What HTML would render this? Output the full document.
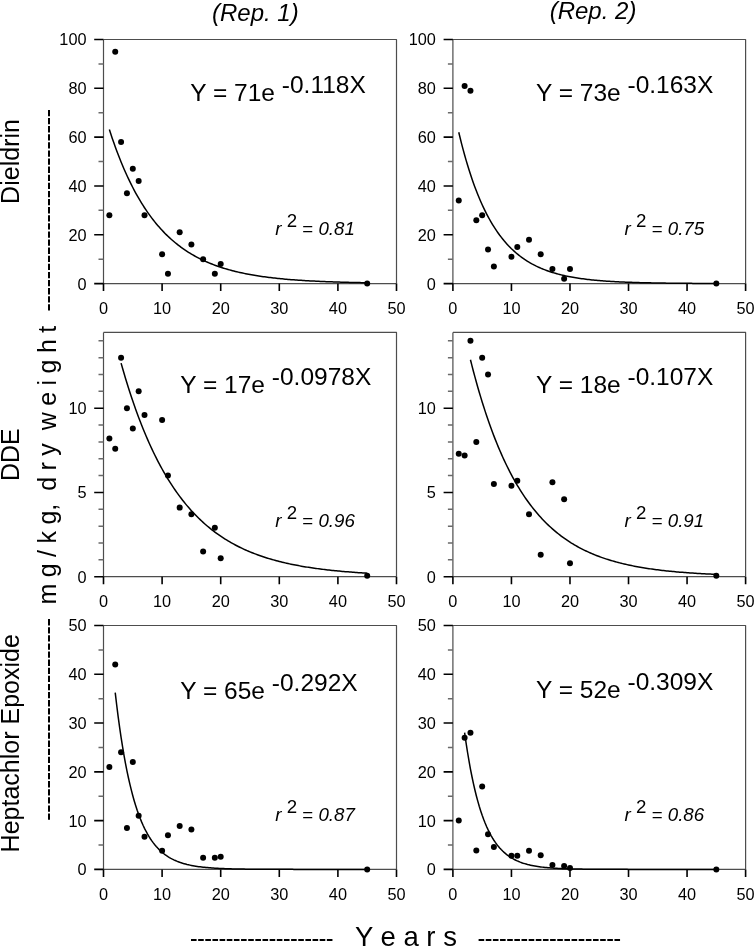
<!DOCTYPE html>
<html><head><meta charset="utf-8"><style>
html,body{margin:0;padding:0;background:#fff;}
svg{display:block;will-change:transform;}
text{font-family:"Liberation Sans", sans-serif;fill:#000;white-space:pre;}
.tl{font-size:16.3px;}
.eq{font-size:24.5px;}
.r2{font-size:18.7px;}
.sup{font-style:normal;}
.rep{font-size:24px;font-style:italic;}
.sl{font-size:25px;}
.yr{font-size:27.5px;}
</style></head><body>
<svg width="755" height="947" viewBox="0 0 755 947">
<rect width="755" height="947" fill="#fff"/>
<path d="M103.5,39.5H396.5V283.6" fill="none" stroke="#4d4d4d" stroke-width="1.2" stroke-linejoin="round"/>
<path d="M103.5,39.5V283.6H396.5" fill="none" stroke="#4d4d4d" stroke-width="1.2" stroke-linejoin="round"/>
<path d="M94.2,283.6H103.5M94.2,234.78H103.5M94.2,185.96H103.5M94.2,137.14H103.5M94.2,88.32H103.5M94.2,39.5H103.5M103.5,283.6V291.1M162.1,283.6V291.1M220.7,283.6V291.1M279.3,283.6V291.1M337.9,283.6V291.1M396.5,283.6V291.1" stroke="#000" stroke-width="1.6"/>
<path d="M98.5,259.19H103.5M98.5,210.37H103.5M98.5,161.55H103.5M98.5,112.73H103.5M98.5,63.91H103.5" stroke="#6a6a6a" stroke-width="1.5"/>
<text x="86.5" y="289.5" text-anchor="end" class="tl">0</text>
<text x="86.5" y="240.68" text-anchor="end" class="tl">20</text>
<text x="86.5" y="191.86" text-anchor="end" class="tl">40</text>
<text x="86.5" y="143.04" text-anchor="end" class="tl">60</text>
<text x="86.5" y="94.22" text-anchor="end" class="tl">80</text>
<text x="86.5" y="45.4" text-anchor="end" class="tl">100</text>
<text x="103.5" y="313.7" text-anchor="middle" class="tl">0</text>
<text x="162.1" y="313.7" text-anchor="middle" class="tl">10</text>
<text x="220.7" y="313.7" text-anchor="middle" class="tl">20</text>
<text x="279.3" y="313.7" text-anchor="middle" class="tl">30</text>
<text x="337.9" y="313.7" text-anchor="middle" class="tl">40</text>
<text x="396.5" y="313.7" text-anchor="middle" class="tl">50</text>
<polyline points="109.36,129.58 110.83,134.06 112.29,138.4 113.75,142.62 115.22,146.72 116.69,150.7 118.15,154.56 119.62,158.32 121.08,161.96 122.55,165.49 124.01,168.93 125.47,172.26 126.94,175.5 128.41,178.64 129.87,181.69 131.34,184.65 132.8,187.53 134.26,190.32 135.73,193.03 137.19,195.67 138.66,198.22 140.12,200.7 141.59,203.11 143.06,205.45 144.52,207.72 145.99,209.93 147.45,212.07 148.91,214.15 150.38,216.17 151.84,218.13 153.31,220.03 154.78,221.88 156.24,223.68 157.71,225.42 159.17,227.11 160.63,228.75 162.1,230.35 163.56,231.89 165.03,233.4 166.5,234.86 167.96,236.27 169.43,237.65 170.89,238.98 172.36,240.28 173.82,241.54 175.29,242.76 176.75,243.95 178.22,245.1 179.68,246.22 181.15,247.31 182.61,248.36 184.07,249.39 185.54,250.38 187,251.35 188.47,252.29 189.94,253.2 191.4,254.08 192.87,254.94 194.33,255.77 195.8,256.58 197.26,257.37 198.73,258.13 200.19,258.87 201.66,259.59 203.12,260.29 204.59,260.96 206.05,261.62 207.51,262.26 208.98,262.88 210.44,263.48 211.91,264.07 213.38,264.64 214.84,265.19 216.31,265.72 217.77,266.24 219.24,266.75 220.7,267.24 222.17,267.71 223.63,268.17 225.1,268.62 226.56,269.06 228.03,269.48 229.49,269.89 230.96,270.29 232.42,270.68 233.89,271.05 235.35,271.42 236.81,271.77 238.28,272.11 239.75,272.45 241.21,272.77 242.68,273.09 244.14,273.39 245.61,273.69 247.07,273.98 248.53,274.26 250,274.53 251.47,274.79 252.93,275.05 254.4,275.3 255.86,275.54 257.33,275.77 258.79,276 260.25,276.22 261.72,276.44 263.19,276.64 264.65,276.85 266.12,277.04 267.58,277.23 269.05,277.42 270.51,277.6 271.98,277.77 273.44,277.94 274.9,278.11 276.37,278.27 277.84,278.42 279.3,278.57 280.76,278.72 282.23,278.86 283.7,279 285.16,279.13 286.62,279.26 288.09,279.39 289.56,279.51 291.02,279.63 292.49,279.74 293.95,279.86 295.42,279.97 296.88,280.07 298.35,280.17 299.81,280.27 301.27,280.37 302.74,280.46 304.21,280.55 305.67,280.64 307.13,280.73 308.6,280.81 310.06,280.89 311.53,280.97 313,281.05 314.46,281.12 315.93,281.19 317.39,281.26 318.86,281.33 320.32,281.4 321.79,281.46 323.25,281.52 324.72,281.59 326.18,281.64 327.64,281.7 329.11,281.76 330.58,281.81 332.04,281.86 333.5,281.91 334.97,281.96 336.44,282.01 337.9,282.05 339.37,282.1 340.83,282.14 342.3,282.19 343.76,282.23 345.23,282.27 346.69,282.31 348.15,282.34 349.62,282.38 351.09,282.42 352.55,282.45 354.01,282.48 355.48,282.52 356.95,282.55 358.41,282.58 359.88,282.61 361.34,282.64 362.81,282.66 364.27,282.69 365.74,282.72 367.2,282.74" fill="none" stroke="#000" stroke-width="1.5"/>
<circle cx="109.36" cy="215.25" r="3"/>
<circle cx="115.22" cy="51.7" r="3"/>
<circle cx="121.08" cy="142.02" r="3"/>
<circle cx="126.94" cy="193.28" r="3"/>
<circle cx="132.8" cy="168.87" r="3"/>
<circle cx="138.66" cy="181.08" r="3"/>
<circle cx="144.52" cy="215.25" r="3"/>
<circle cx="162.1" cy="254.31" r="3"/>
<circle cx="167.96" cy="273.84" r="3"/>
<circle cx="179.68" cy="232.34" r="3"/>
<circle cx="191.4" cy="244.54" r="3"/>
<circle cx="203.12" cy="259.19" r="3"/>
<circle cx="214.84" cy="273.84" r="3"/>
<circle cx="220.7" cy="264.07" r="3"/>
<circle cx="367.2" cy="283.6" r="3"/>
<text x="190.3" y="100.8" class="eq">Y = 71e <tspan dy="-8">-0.118X</tspan></text>
<text x="275.3" y="234.8" class="r2"><tspan font-style="italic">r</tspan> <tspan dy="-8" class="sup">2</tspan><tspan dy="8"> = </tspan><tspan font-style="italic">0.81</tspan></text>
<path d="M452.9,39.5H745.6V283.6" fill="none" stroke="#4d4d4d" stroke-width="1.2" stroke-linejoin="round"/>
<path d="M452.9,39.5V283.6H745.6" fill="none" stroke="#4d4d4d" stroke-width="1.2" stroke-linejoin="round"/>
<path d="M443.6,283.6H452.9M443.6,234.78H452.9M443.6,185.96H452.9M443.6,137.14H452.9M443.6,88.32H452.9M443.6,39.5H452.9M452.9,283.6V291.1M511.44,283.6V291.1M569.98,283.6V291.1M628.52,283.6V291.1M687.06,283.6V291.1M745.6,283.6V291.1" stroke="#000" stroke-width="1.6"/>
<path d="M447.9,259.19H452.9M447.9,210.37H452.9M447.9,161.55H452.9M447.9,112.73H452.9M447.9,63.91H452.9" stroke="#6a6a6a" stroke-width="1.5"/>
<text x="435.9" y="289.5" text-anchor="end" class="tl">0</text>
<text x="435.9" y="240.68" text-anchor="end" class="tl">20</text>
<text x="435.9" y="191.86" text-anchor="end" class="tl">40</text>
<text x="435.9" y="143.04" text-anchor="end" class="tl">60</text>
<text x="435.9" y="94.22" text-anchor="end" class="tl">80</text>
<text x="435.9" y="45.4" text-anchor="end" class="tl">100</text>
<text x="452.9" y="313.7" text-anchor="middle" class="tl">0</text>
<text x="511.44" y="313.7" text-anchor="middle" class="tl">10</text>
<text x="569.98" y="313.7" text-anchor="middle" class="tl">20</text>
<text x="628.52" y="313.7" text-anchor="middle" class="tl">30</text>
<text x="687.06" y="313.7" text-anchor="middle" class="tl">40</text>
<text x="745.6" y="313.7" text-anchor="middle" class="tl">50</text>
<polyline points="458.75,132.21 460.22,138.25 461.68,144.06 463.14,149.63 464.61,154.98 466.07,160.12 467.53,165.05 469,169.78 470.46,174.33 471.93,178.69 473.39,182.88 474.85,186.9 476.32,190.76 477.78,194.47 479.24,198.03 480.71,201.44 482.17,204.72 483.63,207.87 485.1,210.9 486.56,213.8 488.02,216.59 489.49,219.26 490.95,221.83 492.41,224.3 493.88,226.67 495.34,228.94 496.81,231.12 498.27,233.22 499.73,235.23 501.2,237.16 502.66,239.02 504.12,240.8 505.59,242.51 507.05,244.15 508.51,245.72 509.98,247.23 511.44,248.69 512.9,250.08 514.37,251.42 515.83,252.7 517.29,253.94 518.76,255.12 520.22,256.26 521.68,257.35 523.15,258.4 524.61,259.41 526.08,260.37 527.54,261.3 529,262.19 530.47,263.04 531.93,263.87 533.39,264.65 534.86,265.41 536.32,266.14 537.78,266.83 539.25,267.5 540.71,268.15 542.17,268.76 543.64,269.36 545.1,269.92 546.56,270.47 548.03,270.99 549.49,271.5 550.95,271.98 552.42,272.45 553.88,272.89 555.35,273.32 556.81,273.73 558.27,274.12 559.74,274.5 561.2,274.86 562.66,275.21 564.13,275.55 565.59,275.87 567.05,276.18 568.52,276.47 569.98,276.76 571.44,277.03 572.91,277.29 574.37,277.55 575.83,277.79 577.3,278.02 578.76,278.24 580.22,278.46 581.69,278.66 583.15,278.86 584.62,279.05 586.08,279.23 587.54,279.41 589.01,279.57 590.47,279.73 591.93,279.89 593.4,280.04 594.86,280.18 596.32,280.31 597.79,280.45 599.25,280.57 600.71,280.69 602.18,280.81 603.64,280.92 605.1,281.03 606.57,281.13 608.03,281.23 609.49,281.32 610.96,281.41 612.42,281.5 613.88,281.59 615.35,281.67 616.81,281.74 618.28,281.82 619.74,281.89 621.2,281.96 622.67,282.02 624.13,282.09 625.59,282.15 627.06,282.2 628.52,282.26 629.98,282.31 631.45,282.36 632.91,282.41 634.37,282.46 635.84,282.51 637.3,282.55 638.76,282.59 640.23,282.63 641.69,282.67 643.15,282.71 644.62,282.74 646.08,282.78 647.55,282.81 649.01,282.84 650.47,282.87 651.94,282.9 653.4,282.93 654.86,282.96 656.33,282.98 657.79,283.01 659.25,283.03 660.72,283.05 662.18,283.08 663.64,283.1 665.11,283.12 666.57,283.14 668.03,283.15 669.5,283.17 670.96,283.19 672.42,283.21 673.89,283.22 675.35,283.24 676.82,283.25 678.28,283.26 679.74,283.28 681.21,283.29 682.67,283.3 684.13,283.32 685.6,283.33 687.06,283.34 688.52,283.35 689.99,283.36 691.45,283.37 692.91,283.38 694.38,283.39 695.84,283.39 697.3,283.4 698.77,283.41 700.23,283.42 701.7,283.43 703.16,283.43 704.62,283.44 706.09,283.45 707.55,283.45 709.01,283.46 710.48,283.46 711.94,283.47 713.4,283.47 714.87,283.48 716.33,283.48" fill="none" stroke="#000" stroke-width="1.5"/>
<circle cx="458.75" cy="200.61" r="3"/>
<circle cx="464.61" cy="85.88" r="3"/>
<circle cx="470.46" cy="90.76" r="3"/>
<circle cx="476.32" cy="220.13" r="3"/>
<circle cx="482.17" cy="215.25" r="3"/>
<circle cx="488.02" cy="249.43" r="3"/>
<circle cx="493.88" cy="266.51" r="3"/>
<circle cx="511.44" cy="256.75" r="3"/>
<circle cx="517.29" cy="246.99" r="3"/>
<circle cx="529" cy="239.66" r="3"/>
<circle cx="540.71" cy="254.31" r="3"/>
<circle cx="552.42" cy="268.95" r="3"/>
<circle cx="564.13" cy="278.72" r="3"/>
<circle cx="569.98" cy="268.95" r="3"/>
<circle cx="716.33" cy="283.6" r="3"/>
<text x="536" y="101" class="eq">Y = 73e <tspan dy="-8">-0.163X</tspan></text>
<text x="624.6" y="234.9" class="r2"><tspan font-style="italic">r</tspan> <tspan dy="-8" class="sup">2</tspan><tspan dy="8"> = </tspan><tspan font-style="italic">0.75</tspan></text>
<path d="M103.5,332.4H396.5V576.7" fill="none" stroke="#4d4d4d" stroke-width="1.2" stroke-linejoin="round"/>
<path d="M103.5,332.4V576.7H396.5" fill="none" stroke="#4d4d4d" stroke-width="1.2" stroke-linejoin="round"/>
<path d="M94.2,576.7H103.5M94.2,492.46H103.5M94.2,408.22H103.5M103.5,576.7V584.2M162.1,576.7V584.2M220.7,576.7V584.2M279.3,576.7V584.2M337.9,576.7V584.2M396.5,576.7V584.2" stroke="#000" stroke-width="1.6"/>
<path d="M98.5,559.85H103.5M98.5,543H103.5M98.5,526.16H103.5M98.5,509.31H103.5M98.5,475.61H103.5M98.5,458.76H103.5M98.5,441.91H103.5M98.5,425.07H103.5M98.5,391.37H103.5M98.5,374.52H103.5M98.5,357.67H103.5M98.5,340.82H103.5" stroke="#6a6a6a" stroke-width="1.5"/>
<text x="86.5" y="582.6" text-anchor="end" class="tl">0</text>
<text x="86.5" y="498.36" text-anchor="end" class="tl">5</text>
<text x="86.5" y="414.12" text-anchor="end" class="tl">10</text>
<text x="103.5" y="606.8" text-anchor="middle" class="tl">0</text>
<text x="162.1" y="606.8" text-anchor="middle" class="tl">10</text>
<text x="220.7" y="606.8" text-anchor="middle" class="tl">20</text>
<text x="279.3" y="606.8" text-anchor="middle" class="tl">30</text>
<text x="337.9" y="606.8" text-anchor="middle" class="tl">40</text>
<text x="396.5" y="606.8" text-anchor="middle" class="tl">50</text>
<polyline points="121.08,363.11 122.55,368.27 124.01,373.3 125.47,378.22 126.94,383.01 128.41,387.69 129.87,392.25 131.34,396.71 132.8,401.06 134.26,405.3 135.73,409.44 137.19,413.48 138.66,417.42 140.12,421.27 141.59,425.02 143.06,428.69 144.52,432.26 145.99,435.75 147.45,439.15 148.91,442.48 150.38,445.72 151.84,448.88 153.31,451.97 154.78,454.98 156.24,457.92 157.71,460.79 159.17,463.59 160.63,466.32 162.1,468.99 163.56,471.59 165.03,474.13 166.5,476.61 167.96,479.02 169.43,481.38 170.89,483.68 172.36,485.93 173.82,488.12 175.29,490.26 176.75,492.35 178.22,494.39 179.68,496.38 181.15,498.32 182.61,500.21 184.07,502.06 185.54,503.86 187,505.62 188.47,507.34 189.94,509.01 191.4,510.65 192.87,512.24 194.33,513.8 195.8,515.32 197.26,516.8 198.73,518.25 200.19,519.66 201.66,521.04 203.12,522.38 204.59,523.69 206.05,524.97 207.51,526.22 208.98,527.44 210.44,528.63 211.91,529.79 213.38,530.93 214.84,532.03 216.31,533.11 217.77,534.16 219.24,535.19 220.7,536.19 222.17,537.17 223.63,538.13 225.1,539.06 226.56,539.97 228.03,540.85 229.49,541.72 230.96,542.57 232.42,543.39 233.89,544.19 235.35,544.98 236.81,545.75 238.28,546.49 239.75,547.22 241.21,547.93 242.68,548.63 244.14,549.31 245.61,549.97 247.07,550.61 248.53,551.25 250,551.86 251.47,552.46 252.93,553.05 254.4,553.62 255.86,554.17 257.33,554.72 258.79,555.25 260.25,555.77 261.72,556.27 263.19,556.77 264.65,557.25 266.12,557.72 267.58,558.18 269.05,558.62 270.51,559.06 271.98,559.49 273.44,559.9 274.9,560.31 276.37,560.7 277.84,561.09 279.3,561.47 280.76,561.83 282.23,562.19 283.7,562.54 285.16,562.89 286.62,563.22 288.09,563.55 289.56,563.86 291.02,564.17 292.49,564.48 293.95,564.77 295.42,565.06 296.88,565.34 298.35,565.61 299.81,565.88 301.27,566.14 302.74,566.4 304.21,566.65 305.67,566.89 307.13,567.13 308.6,567.36 310.06,567.58 311.53,567.8 313,568.02 314.46,568.23 315.93,568.43 317.39,568.63 318.86,568.83 320.32,569.02 321.79,569.2 323.25,569.38 324.72,569.56 326.18,569.73 327.64,569.9 329.11,570.07 330.58,570.23 332.04,570.38 333.5,570.54 334.97,570.68 336.44,570.83 337.9,570.97 339.37,571.11 340.83,571.24 342.3,571.38 343.76,571.51 345.23,571.63 346.69,571.75 348.15,571.87 349.62,571.99 351.09,572.1 352.55,572.21 354.01,572.32 355.48,572.43 356.95,572.53 358.41,572.63 359.88,572.73 361.34,572.83 362.81,572.92 364.27,573.01 365.74,573.1 367.2,573.19" fill="none" stroke="#000" stroke-width="1.5"/>
<circle cx="109.36" cy="438.54" r="3"/>
<circle cx="115.22" cy="448.65" r="3"/>
<circle cx="121.08" cy="357.67" r="3"/>
<circle cx="126.94" cy="408.22" r="3"/>
<circle cx="132.8" cy="428.44" r="3"/>
<circle cx="138.66" cy="391.37" r="3"/>
<circle cx="144.52" cy="414.96" r="3"/>
<circle cx="162.1" cy="420.01" r="3"/>
<circle cx="167.96" cy="475.61" r="3"/>
<circle cx="179.68" cy="507.62" r="3"/>
<circle cx="191.4" cy="514.36" r="3"/>
<circle cx="203.12" cy="551.43" r="3"/>
<circle cx="214.84" cy="527.84" r="3"/>
<circle cx="220.7" cy="558.17" r="3"/>
<circle cx="367.2" cy="575.86" r="3"/>
<text x="180.3" y="393.4" class="eq">Y = 17e <tspan dy="-8">-0.0978X</tspan></text>
<text x="275.3" y="527.4" class="r2"><tspan font-style="italic">r</tspan> <tspan dy="-8" class="sup">2</tspan><tspan dy="8"> = </tspan><tspan font-style="italic">0.96</tspan></text>
<path d="M452.9,332.4H745.6V576.7" fill="none" stroke="#4d4d4d" stroke-width="1.2" stroke-linejoin="round"/>
<path d="M452.9,332.4V576.7H745.6" fill="none" stroke="#4d4d4d" stroke-width="1.2" stroke-linejoin="round"/>
<path d="M443.6,576.7H452.9M443.6,492.46H452.9M443.6,408.22H452.9M452.9,576.7V584.2M511.44,576.7V584.2M569.98,576.7V584.2M628.52,576.7V584.2M687.06,576.7V584.2M745.6,576.7V584.2" stroke="#000" stroke-width="1.6"/>
<path d="M447.9,559.85H452.9M447.9,543H452.9M447.9,526.16H452.9M447.9,509.31H452.9M447.9,475.61H452.9M447.9,458.76H452.9M447.9,441.91H452.9M447.9,425.07H452.9M447.9,391.37H452.9M447.9,374.52H452.9M447.9,357.67H452.9M447.9,340.82H452.9" stroke="#6a6a6a" stroke-width="1.5"/>
<text x="435.9" y="582.6" text-anchor="end" class="tl">0</text>
<text x="435.9" y="498.36" text-anchor="end" class="tl">5</text>
<text x="435.9" y="414.12" text-anchor="end" class="tl">10</text>
<text x="452.9" y="606.8" text-anchor="middle" class="tl">0</text>
<text x="511.44" y="606.8" text-anchor="middle" class="tl">10</text>
<text x="569.98" y="606.8" text-anchor="middle" class="tl">20</text>
<text x="628.52" y="606.8" text-anchor="middle" class="tl">30</text>
<text x="687.06" y="606.8" text-anchor="middle" class="tl">40</text>
<text x="745.6" y="606.8" text-anchor="middle" class="tl">50</text>
<polyline points="470.46,359.8 471.93,365.58 473.39,371.2 474.85,376.67 476.32,382 477.78,387.19 479.24,392.24 480.71,397.15 482.17,401.93 483.63,406.59 485.1,411.12 486.56,415.53 488.02,419.83 489.49,424 490.95,428.07 492.41,432.03 493.88,435.89 495.34,439.64 496.81,443.29 498.27,446.84 499.73,450.3 501.2,453.67 502.66,456.95 504.12,460.14 505.59,463.24 507.05,466.26 508.51,469.2 509.98,472.07 511.44,474.86 512.9,477.57 514.37,480.21 515.83,482.78 517.29,485.28 518.76,487.72 520.22,490.09 521.68,492.39 523.15,494.64 524.61,496.83 526.08,498.95 527.54,501.03 529,503.04 530.47,505 531.93,506.91 533.39,508.77 534.86,510.58 536.32,512.34 537.78,514.06 539.25,515.73 540.71,517.35 542.17,518.93 543.64,520.47 545.1,521.97 546.56,523.43 548.03,524.85 549.49,526.23 550.95,527.57 552.42,528.88 553.88,530.15 555.35,531.39 556.81,532.6 558.27,533.78 559.74,534.92 561.2,536.03 562.66,537.12 564.13,538.17 565.59,539.2 567.05,540.2 568.52,541.17 569.98,542.11 571.44,543.04 572.91,543.93 574.37,544.81 575.83,545.65 577.3,546.48 578.76,547.29 580.22,548.07 581.69,548.83 583.15,549.58 584.62,550.3 586.08,551 587.54,551.69 589.01,552.35 590.47,553 591.93,553.63 593.4,554.25 594.86,554.84 596.32,555.43 597.79,555.99 599.25,556.55 600.71,557.08 602.18,557.6 603.64,558.11 605.1,558.61 606.57,559.09 608.03,559.56 609.49,560.02 610.96,560.46 612.42,560.89 613.88,561.31 615.35,561.72 616.81,562.12 618.28,562.51 619.74,562.89 621.2,563.26 622.67,563.62 624.13,563.96 625.59,564.3 627.06,564.63 628.52,564.95 629.98,565.27 631.45,565.57 632.91,565.87 634.37,566.16 635.84,566.44 637.3,566.71 638.76,566.98 640.23,567.24 641.69,567.49 643.15,567.73 644.62,567.97 646.08,568.21 647.55,568.43 649.01,568.65 650.47,568.87 651.94,569.07 653.4,569.28 654.86,569.48 656.33,569.67 657.79,569.86 659.25,570.04 660.72,570.22 662.18,570.39 663.64,570.56 665.11,570.72 666.57,570.88 668.03,571.03 669.5,571.19 670.96,571.33 672.42,571.48 673.89,571.61 675.35,571.75 676.82,571.88 678.28,572.01 679.74,572.13 681.21,572.26 682.67,572.37 684.13,572.49 685.6,572.6 687.06,572.71 688.52,572.82 689.99,572.92 691.45,573.02 692.91,573.12 694.38,573.22 695.84,573.31 697.3,573.4 698.77,573.49 700.23,573.57 701.7,573.66 703.16,573.74 704.62,573.82 706.09,573.89 707.55,573.97 709.01,574.04 710.48,574.11 711.94,574.18 713.4,574.25 714.87,574.31 716.33,574.38" fill="none" stroke="#000" stroke-width="1.5"/>
<circle cx="458.75" cy="453.71" r="3"/>
<circle cx="464.61" cy="455.39" r="3"/>
<circle cx="470.46" cy="340.82" r="3"/>
<circle cx="476.32" cy="441.91" r="3"/>
<circle cx="482.17" cy="357.67" r="3"/>
<circle cx="488.02" cy="374.52" r="3"/>
<circle cx="493.88" cy="484.03" r="3"/>
<circle cx="511.44" cy="485.72" r="3"/>
<circle cx="517.29" cy="480.66" r="3"/>
<circle cx="529" cy="514.36" r="3"/>
<circle cx="540.71" cy="554.8" r="3"/>
<circle cx="552.42" cy="482.35" r="3"/>
<circle cx="564.13" cy="499.2" r="3"/>
<circle cx="569.98" cy="563.22" r="3"/>
<circle cx="716.33" cy="575.86" r="3"/>
<text x="536" y="393.2" class="eq">Y = 18e <tspan dy="-8">-0.107X</tspan></text>
<text x="624.6" y="527.4" class="r2"><tspan font-style="italic">r</tspan> <tspan dy="-8" class="sup">2</tspan><tspan dy="8"> = </tspan><tspan font-style="italic">0.91</tspan></text>
<path d="M103.5,625.5H396.5V869.4" fill="none" stroke="#4d4d4d" stroke-width="1.2" stroke-linejoin="round"/>
<path d="M103.5,625.5V869.4H396.5" fill="none" stroke="#4d4d4d" stroke-width="1.2" stroke-linejoin="round"/>
<path d="M94.2,869.4H103.5M94.2,820.62H103.5M94.2,771.84H103.5M94.2,723.06H103.5M94.2,674.28H103.5M94.2,625.5H103.5M103.5,869.4V876.9M162.1,869.4V876.9M220.7,869.4V876.9M279.3,869.4V876.9M337.9,869.4V876.9M396.5,869.4V876.9" stroke="#000" stroke-width="1.6"/>
<path d="M98.5,845.01H103.5M98.5,796.23H103.5M98.5,747.45H103.5M98.5,698.67H103.5M98.5,649.89H103.5" stroke="#6a6a6a" stroke-width="1.5"/>
<text x="86.5" y="875.3" text-anchor="end" class="tl">0</text>
<text x="86.5" y="826.52" text-anchor="end" class="tl">10</text>
<text x="86.5" y="777.74" text-anchor="end" class="tl">20</text>
<text x="86.5" y="728.96" text-anchor="end" class="tl">30</text>
<text x="86.5" y="680.18" text-anchor="end" class="tl">40</text>
<text x="86.5" y="631.4" text-anchor="end" class="tl">50</text>
<text x="103.5" y="899.5" text-anchor="middle" class="tl">0</text>
<text x="162.1" y="899.5" text-anchor="middle" class="tl">10</text>
<text x="220.7" y="899.5" text-anchor="middle" class="tl">20</text>
<text x="279.3" y="899.5" text-anchor="middle" class="tl">30</text>
<text x="337.9" y="899.5" text-anchor="middle" class="tl">40</text>
<text x="396.5" y="899.5" text-anchor="middle" class="tl">50</text>
<polyline points="115.22,692.58 116.69,705.03 118.15,716.6 119.62,727.36 121.08,737.36 122.55,746.65 124.01,755.29 125.47,763.33 126.94,770.79 128.41,777.74 129.87,784.19 131.34,790.19 132.8,795.76 134.26,800.95 135.73,805.77 137.19,810.25 138.66,814.41 140.12,818.28 141.59,821.88 143.06,825.23 144.52,828.34 145.99,831.23 147.45,833.91 148.91,836.41 150.38,838.73 151.84,840.89 153.31,842.9 154.78,844.77 156.24,846.5 157.71,848.11 159.17,849.61 160.63,851 162.1,852.3 163.56,853.5 165.03,854.62 166.5,855.66 167.96,856.63 169.43,857.53 170.89,858.36 172.36,859.14 173.82,859.86 175.29,860.53 176.75,861.16 178.22,861.74 179.68,862.28 181.15,862.78 182.61,863.25 184.07,863.68 185.54,864.08 187,864.46 188.47,864.8 189.94,865.13 191.4,865.43 192.87,865.71 194.33,865.97 195.8,866.21 197.26,866.43 198.73,866.64 200.19,866.84 201.66,867.02 203.12,867.19 204.59,867.34 206.05,867.49 207.51,867.62 208.98,867.75 210.44,867.86 211.91,867.97 213.38,868.07 214.84,868.16 216.31,868.25 217.77,868.33 219.24,868.41 220.7,868.48 222.17,868.54 223.63,868.6 225.1,868.66 226.56,868.71 228.03,868.76 229.49,868.8 230.96,868.85 232.42,868.89 233.89,868.92 235.35,868.96 236.81,868.99 238.28,869.02 239.75,869.04 241.21,869.07 242.68,869.09 244.14,869.11 245.61,869.13 247.07,869.15 248.53,869.17 250,869.19 251.47,869.2 252.93,869.21 254.4,869.23 255.86,869.24 257.33,869.25 258.79,869.26 260.25,869.27 261.72,869.28 263.19,869.29 264.65,869.3 266.12,869.3 267.58,869.31 269.05,869.32 270.51,869.32 271.98,869.33 273.44,869.33 274.9,869.34 276.37,869.34 277.84,869.35 279.3,869.35 280.76,869.35 282.23,869.36 283.7,869.36 285.16,869.36 286.62,869.37 288.09,869.37 289.56,869.37 291.02,869.37 292.49,869.37 293.95,869.38 295.42,869.38 296.88,869.38 298.35,869.38 299.81,869.38 301.27,869.38 302.74,869.38 304.21,869.39 305.67,869.39 307.13,869.39 308.6,869.39 310.06,869.39 311.53,869.39 313,869.39 314.46,869.39 315.93,869.39 317.39,869.39 318.86,869.39 320.32,869.39 321.79,869.39 323.25,869.39 324.72,869.39 326.18,869.4 327.64,869.4 329.11,869.4 330.58,869.4 332.04,869.4 333.5,869.4 334.97,869.4 336.44,869.4 337.9,869.4 339.37,869.4 340.83,869.4 342.3,869.4 343.76,869.4 345.23,869.4 346.69,869.4 348.15,869.4 349.62,869.4 351.09,869.4 352.55,869.4 354.01,869.4 355.48,869.4 356.95,869.4 358.41,869.4 359.88,869.4 361.34,869.4 362.81,869.4 364.27,869.4 365.74,869.4 367.2,869.4" fill="none" stroke="#000" stroke-width="1.5"/>
<circle cx="109.36" cy="766.96" r="3"/>
<circle cx="115.22" cy="664.52" r="3"/>
<circle cx="121.08" cy="752.33" r="3"/>
<circle cx="126.94" cy="827.94" r="3"/>
<circle cx="132.8" cy="762.08" r="3"/>
<circle cx="138.66" cy="815.74" r="3"/>
<circle cx="144.52" cy="836.72" r="3"/>
<circle cx="162.1" cy="850.86" r="3"/>
<circle cx="167.96" cy="835.25" r="3"/>
<circle cx="179.68" cy="825.99" r="3"/>
<circle cx="191.4" cy="829.4" r="3"/>
<circle cx="203.12" cy="857.69" r="3"/>
<circle cx="214.84" cy="857.69" r="3"/>
<circle cx="220.7" cy="856.72" r="3"/>
<circle cx="367.2" cy="869.4" r="3"/>
<text x="180.3" y="698.9" class="eq">Y = 65e <tspan dy="-8">-0.292X</tspan></text>
<text x="275.3" y="820.5" class="r2"><tspan font-style="italic">r</tspan> <tspan dy="-8" class="sup">2</tspan><tspan dy="8"> = </tspan><tspan font-style="italic">0.87</tspan></text>
<path d="M452.9,625.5H745.6V869.4" fill="none" stroke="#4d4d4d" stroke-width="1.2" stroke-linejoin="round"/>
<path d="M452.9,625.5V869.4H745.6" fill="none" stroke="#4d4d4d" stroke-width="1.2" stroke-linejoin="round"/>
<path d="M443.6,869.4H452.9M443.6,820.62H452.9M443.6,771.84H452.9M443.6,723.06H452.9M443.6,674.28H452.9M443.6,625.5H452.9M452.9,869.4V876.9M511.44,869.4V876.9M569.98,869.4V876.9M628.52,869.4V876.9M687.06,869.4V876.9M745.6,869.4V876.9" stroke="#000" stroke-width="1.6"/>
<path d="M447.9,845.01H452.9M447.9,796.23H452.9M447.9,747.45H452.9M447.9,698.67H452.9M447.9,649.89H452.9" stroke="#6a6a6a" stroke-width="1.5"/>
<text x="435.9" y="875.3" text-anchor="end" class="tl">0</text>
<text x="435.9" y="826.52" text-anchor="end" class="tl">10</text>
<text x="435.9" y="777.74" text-anchor="end" class="tl">20</text>
<text x="435.9" y="728.96" text-anchor="end" class="tl">30</text>
<text x="435.9" y="680.18" text-anchor="end" class="tl">40</text>
<text x="435.9" y="631.4" text-anchor="end" class="tl">50</text>
<text x="452.9" y="899.5" text-anchor="middle" class="tl">0</text>
<text x="511.44" y="899.5" text-anchor="middle" class="tl">10</text>
<text x="569.98" y="899.5" text-anchor="middle" class="tl">20</text>
<text x="628.52" y="899.5" text-anchor="middle" class="tl">30</text>
<text x="687.06" y="899.5" text-anchor="middle" class="tl">40</text>
<text x="745.6" y="899.5" text-anchor="middle" class="tl">50</text>
<polyline points="464.61,732.67 466.07,742.84 467.53,752.25 469,760.96 470.46,769.02 471.93,776.48 473.39,783.39 474.85,789.78 476.32,795.7 477.78,801.18 479.24,806.25 480.71,810.95 482.17,815.29 483.63,819.31 485.1,823.04 486.56,826.48 488.02,829.68 489.49,832.63 490.95,835.36 492.41,837.89 493.88,840.23 495.34,842.4 496.81,844.41 498.27,846.27 499.73,847.99 501.2,849.58 502.66,851.05 504.12,852.42 505.59,853.68 507.05,854.85 508.51,855.93 509.98,856.93 511.44,857.86 512.9,858.72 514.37,859.51 515.83,860.25 517.29,860.93 518.76,861.56 520.22,862.14 521.68,862.68 523.15,863.18 524.61,863.64 526.08,864.07 527.54,864.47 529,864.83 530.47,865.17 531.93,865.49 533.39,865.78 534.86,866.05 536.32,866.3 537.78,866.53 539.25,866.74 540.71,866.94 542.17,867.12 543.64,867.29 545.1,867.45 546.56,867.59 548.03,867.73 549.49,867.85 550.95,867.97 552.42,868.07 553.88,868.17 555.35,868.26 556.81,868.35 558.27,868.43 559.74,868.5 561.2,868.57 562.66,868.63 564.13,868.68 565.59,868.74 567.05,868.79 568.52,868.83 569.98,868.87 571.44,868.91 572.91,868.95 574.37,868.98 575.83,869.01 577.3,869.04 578.76,869.07 580.22,869.09 581.69,869.12 583.15,869.14 584.62,869.16 586.08,869.18 587.54,869.19 589.01,869.21 590.47,869.22 591.93,869.24 593.4,869.25 594.86,869.26 596.32,869.27 597.79,869.28 599.25,869.29 600.71,869.3 602.18,869.3 603.64,869.31 605.1,869.32 606.57,869.32 608.03,869.33 609.49,869.33 610.96,869.34 612.42,869.34 613.88,869.35 615.35,869.35 616.81,869.36 618.28,869.36 619.74,869.36 621.2,869.36 622.67,869.37 624.13,869.37 625.59,869.37 627.06,869.37 628.52,869.38 629.98,869.38 631.45,869.38 632.91,869.38 634.37,869.38 635.84,869.38 637.3,869.38 638.76,869.39 640.23,869.39 641.69,869.39 643.15,869.39 644.62,869.39 646.08,869.39 647.55,869.39 649.01,869.39 650.47,869.39 651.94,869.39 653.4,869.39 654.86,869.39 656.33,869.39 657.79,869.39 659.25,869.4 660.72,869.4 662.18,869.4 663.64,869.4 665.11,869.4 666.57,869.4 668.03,869.4 669.5,869.4 670.96,869.4 672.42,869.4 673.89,869.4 675.35,869.4 676.82,869.4 678.28,869.4 679.74,869.4 681.21,869.4 682.67,869.4 684.13,869.4 685.6,869.4 687.06,869.4 688.52,869.4 689.99,869.4 691.45,869.4 692.91,869.4 694.38,869.4 695.84,869.4 697.3,869.4 698.77,869.4 700.23,869.4 701.7,869.4 703.16,869.4 704.62,869.4 706.09,869.4 707.55,869.4 709.01,869.4 710.48,869.4 711.94,869.4 713.4,869.4 714.87,869.4 716.33,869.4" fill="none" stroke="#000" stroke-width="1.5"/>
<circle cx="458.75" cy="820.62" r="3"/>
<circle cx="464.61" cy="737.69" r="3"/>
<circle cx="470.46" cy="732.82" r="3"/>
<circle cx="476.32" cy="850.38" r="3"/>
<circle cx="482.17" cy="786.47" r="3"/>
<circle cx="488.02" cy="834.28" r="3"/>
<circle cx="493.88" cy="846.96" r="3"/>
<circle cx="511.44" cy="855.74" r="3"/>
<circle cx="517.29" cy="855.74" r="3"/>
<circle cx="529" cy="850.86" r="3"/>
<circle cx="540.71" cy="855.25" r="3"/>
<circle cx="552.42" cy="865.01" r="3"/>
<circle cx="564.13" cy="865.99" r="3"/>
<circle cx="569.98" cy="867.94" r="3"/>
<circle cx="716.33" cy="869.4" r="3"/>
<text x="536" y="698.2" class="eq">Y = 52e <tspan dy="-8">-0.309X</tspan></text>
<text x="624.6" y="820.5" class="r2"><tspan font-style="italic">r</tspan> <tspan dy="-8" class="sup">2</tspan><tspan dy="8"> = </tspan><tspan font-style="italic">0.86</tspan></text>
<text transform="translate(19,161.5) rotate(-90)" text-anchor="middle" class="sl">Dieldrin</text>
<text transform="translate(19,454.7) rotate(-90)" text-anchor="middle" class="sl">DDE</text>
<text transform="translate(19,743.3) rotate(-90)" text-anchor="middle" class="sl">Heptachlor Epoxide</text>
<path d="M49,109.9V310.6M49,619.1V819.8" stroke="#000" stroke-width="2" stroke-dasharray="6.3 1.8"/>
<text transform="translate(55.8,604.5) rotate(-90)" class="sl" style="word-spacing:-0.5px">m g / k g,  d r y  w e i g h t</text>
<text x="212" y="20.5" class="rep">(Rep. 1)</text>
<text x="549.7" y="18.5" class="rep">(Rep. 2)</text>
<path d="M191,940H333M478.6,940H620.5" stroke="#000" stroke-width="2" stroke-dasharray="5.6 1.55"/>
<text x="355" y="945.6" class="yr">Y e a r s</text>
</svg>
</body></html>
